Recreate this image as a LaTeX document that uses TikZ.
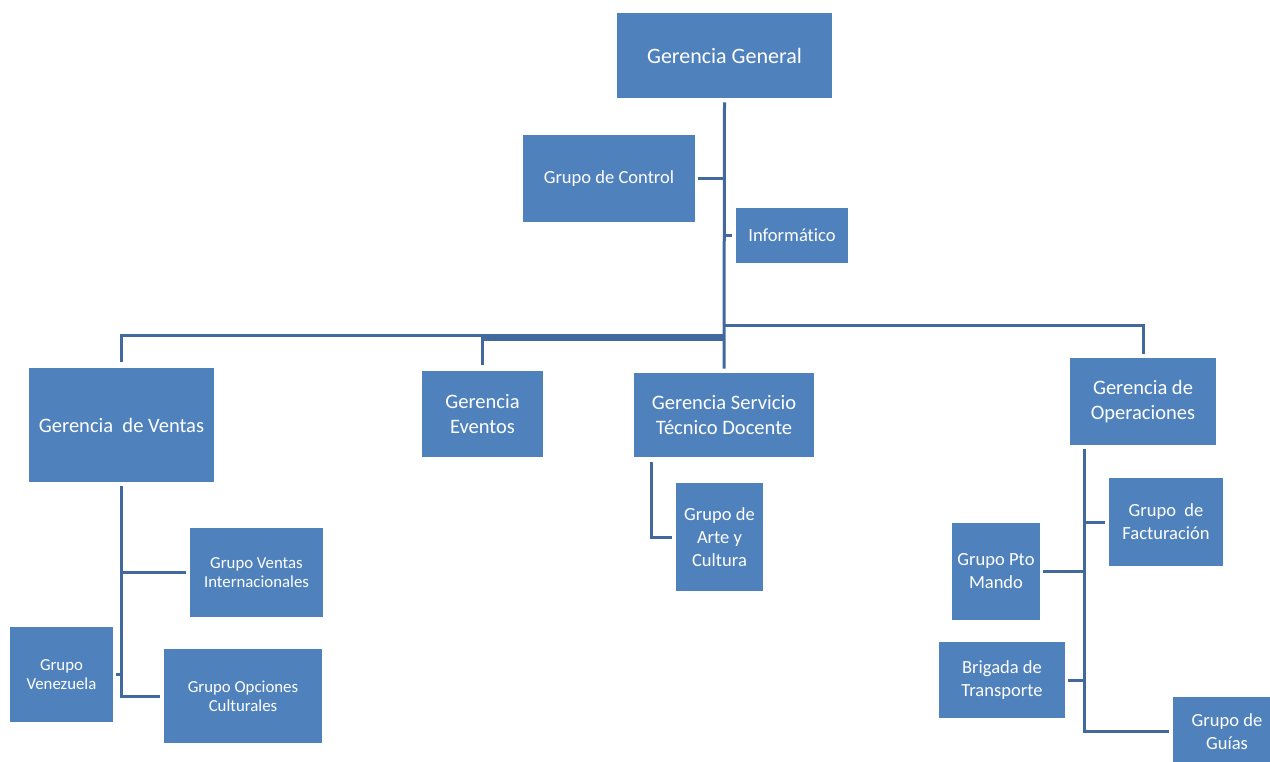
\documentclass[tikz,border=0pt]{standalone}
\usepackage{fontspec}
\setmainfont{Carlito}[Ligatures=CommonOff]
\usepackage{tikz}

\definecolor{boxblue}{HTML}{4F81BD}
\definecolor{lineblue}{HTML}{41699E}

\begin{document}
\begin{tikzpicture}[x=0.75pt,y=-0.75pt,
    orgbox/.style={fill=boxblue, text=white, align=center, inner sep=0pt},
    dims/.style 2 args={minimum width=#1*0.75pt, minimum height=#2*0.75pt},
    link/.style={draw=lineblue, line width=2.25pt},
    biglink/.style={draw=lineblue, line width=3.75pt},
    ftop/.style={font=\fontsize{16.5}{20}\selectfont},
    fmid/.style={font=\fontsize{15.4}{18.5}\selectfont},
    fgrp/.style={font=\fontsize{13.9}{17.3}\selectfont},
    fsml/.style={font=\fontsize{12.6}{14.3}\selectfont}]
  \useasboundingbox (0,0) rectangle (1270,761);

  % top
  \node[orgbox,ftop,dims={215}{85}] (gg) at (724.5,55.5) {Gerencia General};
  \node[orgbox,fgrp,dims={172}{87}] (ctrl) at (609,178.5) {Grupo de Control};
  \node[orgbox,fgrp,dims={112}{55}] (info) at (792,235.5) {Informático};

  % gerencias
  \node[orgbox,fmid,dims={185}{114}] (ventas) at (121.5,425) {Gerencia~ de Ventas};
  \node[orgbox,fmid,dims={121}{86}] (eventos) at (482.5,414) {Gerencia\\Eventos};
  \node[orgbox,fmid,dims={180}{84}] (serv) at (724,415) {Gerencia Servicio\\Técnico Docente};
  \node[orgbox,fmid,dims={146}{87}] (oper) at (1143,401.5) {Gerencia de\\Operaciones};

  % grupos
  \node[orgbox,fsml,dims={133}{89}] (vint) at (256.5,572.5) {Grupo Ventas\\Internacionales};
  \node[orgbox,fsml,dims={103}{95}] (venez) at (61.5,674.5) {Grupo\\Venezuela};
  \node[orgbox,fsml,dims={158}{94}] (opc) at (243,696) {Grupo Opciones\\Culturales};
  \node[orgbox,fgrp,dims={87}{108}] (arte) at (719.5,537) {Grupo de\\Arte y\\Cultura};
  \node[orgbox,fgrp,dims={114}{88}] (fact) at (1166,522) {Grupo~ de\\Facturación};
  \node[orgbox,fgrp,dims={88}{97}] (pto) at (996,571.5) {Grupo Pto\\Mando};
  \node[orgbox,fgrp,dims={126}{76}] (brig) at (1002,680) {Brigada de\\Transporte};
  \node[orgbox,fgrp,dims={108}{69}] (guias) at (1227,731.5) {Grupo de\\Guías};

  \coordinate (hub) at (724,335);
  \coordinate (hubE) at (724,338.5);
  \coordinate (hubR) at (724,325.5);
  \coordinate (opsbus) at (1084,449);
  \coordinate (artbus) at (651,462);

  % trunk
  \draw[link] ([yshift=-3pt]gg.south) -- ([yshift=3pt]serv.north);
  \draw[link] ([xshift=2pt]ctrl.east) -- (ctrl.east -| gg.south);
  \draw[link] ([xshift=-2.5pt]info.west) -- (info.west -| gg.south);
  \draw[link] ([yshift=4pt]ventas.north) |- (hub);
  \draw[link] ([yshift=4pt]eventos.north) -- (eventos.north |- hubE);
  \draw[biglink] ([xshift=-1pt]eventos.north |- hubE) -- (hubE);
  \draw[link] ([yshift=3pt]oper.north) |- (hubR);

  % ventas
  \draw[link] ([yshift=-3pt]ventas.south) |- ([xshift=-3pt]opc.west);
  \draw[link] ([xshift=-3pt]vint.west) -- (vint.west -| ventas.south);
  \draw[link] ([xshift=2pt]venez.east) -- (venez.east -| ventas.south);

  % servicio
  \draw[link] (artbus) |- ([xshift=-3pt]arte.west);

  % operaciones
  \draw[link] (opsbus) |- ([xshift=-3pt]guias.west);
  \draw[link] ([xshift=-3pt]fact.west) -- (fact.west -| opsbus);
  \draw[link] ([xshift=2pt]pto.east) -- (pto.east -| opsbus);
  \draw[link] ([xshift=2pt]brig.east) -- (brig.east -| opsbus);
\end{tikzpicture}
\end{document}
